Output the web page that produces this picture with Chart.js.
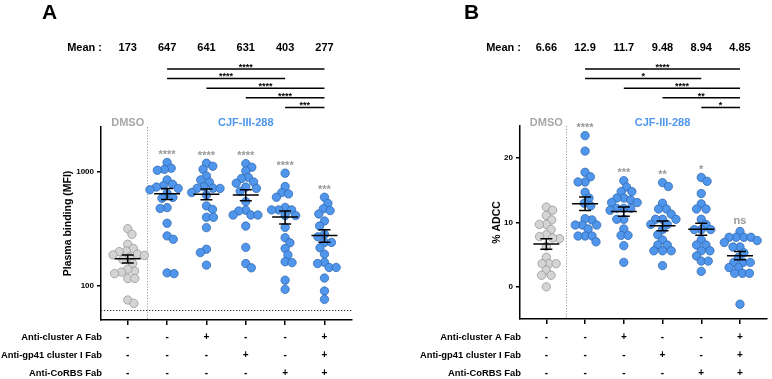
<!DOCTYPE html>
<html>
<head>
<meta charset="utf-8">
<script src="https://cdn.jsdelivr.net/npm/chart.js@4.4.1/dist/chart.umd.min.js"></script>
<style>
  body { margin: 0; background: #fff; }
  #wrap { position: relative; width: 772px; height: 379px; }
  canvas { position: absolute; top: 0; }
</style>
</head>
<body>
<div id="wrap">
  <canvas id="chartA" width="386" height="379" style="left:0"></canvas>
  <canvas id="chartB" width="386" height="379" style="left:386px"></canvas>
</div>
<script>
// ---- data ----
const fabLabels = ['Anti-cluster A Fab', 'Anti-gp41 cluster I Fab', 'Anti-CoRBS Fab'];
const fabClusterA = ['-', '-', '+', '-', '-', '+'];
const fabGp41 = ['-', '-', '-', '+', '-', '+'];
const fabCoRBS = ['-', '-', '-', '-', '+', '+'];
const groupDMSO = 'DMSO';
const groupCJF = 'CJF-III-288';

// A: plasma binding (MFI)
const mfiDMSO = [318, 284, 232, 213, 202, 200, 190, 187, 178, 185, 170, 157, 135, 140, 132, 128, 116, 116, 75, 70];
const mfiCJF = [1217, 1085, 1060, 1040, 856, 783, 760, 740, 720, 700, 650, 600, 590, 488, 480, 355, 275, 257, 130, 128];
const mfiCJFclA = [1200, 1130, 1060, 928, 856, 816, 745, 723, 723, 720, 662, 630, 505, 471, 401, 401, 325, 210, 196, 152];
const mfiCJFgp41 = [1190, 1107, 1027, 900, 880, 820, 800, 740, 720, 680, 551, 463, 456, 420, 420, 420, 336, 218, 157, 144];
const mfiCJFcorbs = [980, 748, 661, 644, 602, 490, 466, 466, 466, 415, 415, 327, 265, 239, 213, 187, 163, 160, 112, 93];
const mfiCJFall = [602, 532, 477, 459, 429, 372, 336, 284, 270, 241, 241, 216, 190, 161, 157, 145, 145, 117, 90, 76];
const meanMFI = [173, 647, 641, 631, 403, 277];
const starsMFI = ['', '****', '****', '****', '****', '***'];
const pairsMFI = [[1, 5, '****'], [1, 4, '****'], [2, 5, '****'], [3, 5, '****'], [4, 5, '***']];
const ticksMFI = [100, 1000];
const cutoffMFI = 61;

// B: % ADCC
const adccDMSO = [12.4, 11.9, 11.1, 10.4, 9.7, 9.7, 8.9, 8.1, 7.8, 7.5, 7.6, 6.3, 4.6, 3.6, 3.6, 3.6, 2.6, 1.8, 1.8, 0.0];
const adccCJF = [23.5, 21.1, 17.8, 17.1, 16.3, 16.3, 14.7, 13.8, 13.0, 12.6, 10.4, 10.6, 9.6, 9.6, 9.6, 9.0, 7.9, 7.9, 7.9, 7.0];
const adccCJFclA = [16.5, 15.5, 14.8, 14.8, 13.8, 13.8, 13.5, 13.1, 13.1, 12.2, 12.2, 12.2, 11.9, 10.5, 10.5, 9.0, 8.0, 8.0, 6.4, 3.8];
const adccCJFgp41 = [16.2, 15.6, 13.0, 12.1, 12.1, 11.3, 10.5, 10.5, 10.5, 9.7, 9.7, 8.9, 8.1, 7.3, 6.5, 6.5, 5.6, 5.6, 5.6, 3.3];
const adccCJFcorbs = [17.0, 16.4, 14.5, 12.9, 12.1, 12.1, 10.5, 9.7, 8.9, 8.9, 8.9, 7.3, 6.5, 6.5, 5.6, 5.6, 4.8, 4.0, 4.0, 2.4];
const adccCJFall = [8.6, 7.7, 7.7, 7.7, 7.7, 7.2, 6.9, 6.2, 6.2, 5.3, 4.6, 3.8, 3.8, 3.8, 3.0, 3.0, 2.1, 2.1, 2.1, -2.7];
const meanADCC = [6.66, 12.9, 11.7, 9.48, 8.94, 4.85];
const starsADCC = ['', '****', '***', '**', '*', 'ns'];
const pairsADCC = [[1, 5, '****'], [1, 4, '*'], [2, 5, '****'], [3, 5, '**'], [4, 5, '*']];
const ticksADCC = [0, 10, 20];

// ---- drawing ----
const FONT = "'Liberation Sans', Arial, sans-serif";
const GREY_DOT = '#d4d4d4', GREY_EDGE = '#8e8e8e';
const BLUE_DOT = '#4f96ec', BLUE_EDGE = '#2b62a8';
const DOT_R = 4.2, SWARM_D = 7.0;

function font(size, bold) { return (bold ? 'bold ' : '') + size + 'px ' + FONT; }

// stars sit high in the em box; centre them on y
function starText(ctx, txt, x, y, size, color) {
  ctx.font = font(size, true);
  ctx.fillStyle = color;
  ctx.textAlign = 'center';
  ctx.textBaseline = 'alphabetic';
  if (txt === 'ns') ctx.fillText(txt, x, y + size * 0.27);
  else ctx.fillText(txt, x, y + size * 0.57);
}

function panelPlugin(p) {
  return {
    id: 'panel' + p.letter,
    beforeDatasetsDraw(chart) {
      const ctx = chart.ctx, a = chart.chartArea;
      const xs = chart.scales.x, ys = chart.scales.y;
      ctx.save();
      ctx.lineWidth = 1;
      ctx.strokeStyle = '#9a9a9a';
      ctx.setLineDash([1.2, 1.6]);
      const sx = Math.round(xs.getPixelForValue(0.5)) + 0.5;
      ctx.beginPath(); ctx.moveTo(sx, a.top); ctx.lineTo(sx, a.bottom); ctx.stroke();
      if (p.cutoff !== undefined) {
        const cy = Math.round(ys.getPixelForValue(p.cutoff)) + 0.5;
        ctx.strokeStyle = '#333';
        ctx.setLineDash([1.3, 1.7]);
        ctx.beginPath(); ctx.moveTo(a.left, cy); ctx.lineTo(a.right, cy); ctx.stroke();
      }
      ctx.restore();
    },
    afterDatasetsDraw(chart) {
      const ctx = chart.ctx;
      const xs = chart.scales.x, ys = chart.scales.y;
      ctx.save();
      ctx.strokeStyle = '#000';
      ctx.lineWidth = 1.5;
      p.groups.forEach((vals, g) => {
        const n = vals.length;
        const avg = vals.reduce((s, v) => s + v, 0) / n;
        const sd = Math.sqrt(vals.reduce((s, v) => s + (v - avg) * (v - avg), 0) / (n - 1));
        const sem = sd / Math.sqrt(n);
        const m = p.means[g];
        const cx = xs.getPixelForValue(g);
        const ym = ys.getPixelForValue(m);
        const yt = ys.getPixelForValue(m + sem), yb = ys.getPixelForValue(m - sem);
        ctx.beginPath();
        ctx.moveTo(cx - 13, ym); ctx.lineTo(cx + 13, ym);
        ctx.moveTo(cx, yt); ctx.lineTo(cx, yb);
        ctx.moveTo(cx - 6, yt); ctx.lineTo(cx + 6, yt);
        ctx.moveTo(cx - 6, yb); ctx.lineTo(cx + 6, yb);
        ctx.stroke();
        // significance vs DMSO above each group
        if (p.stars[g]) {
          const top = ys.getPixelForValue(Math.max(...vals));
          starText(ctx, p.stars[g], cx, top - 10.5, 11, '#999');
        }
      });
      ctx.restore();
    },
    afterDraw(chart) {
      const ctx = chart.ctx, a = chart.chartArea;
      const xs = chart.scales.x;
      const gx = g => xs.getPixelForValue(g);
      ctx.save();
      // panel letter
      ctx.fillStyle = '#000';
      ctx.font = font(21, true);
      ctx.textAlign = 'left';
      ctx.textBaseline = 'alphabetic';
      ctx.fillText(p.letter, p.letterX, 19);
      // mean row
      ctx.font = font(11, true);
      ctx.textAlign = 'right';
      ctx.fillText('Mean :', a.left + 1, 51);
      ctx.textAlign = 'center';
      p.means.forEach((m, g) => ctx.fillText(String(m), gx(g), 51));
      // comparison brackets
      ctx.strokeStyle = '#000';
      ctx.lineWidth = 1.5;
      p.pairs.forEach((pr, i) => {
        const y = 69 + i * 9.6;
        ctx.beginPath(); ctx.moveTo(gx(pr[0]), y); ctx.lineTo(gx(pr[1]), y); ctx.stroke();
        starText(ctx, pr[2], (gx(pr[0]) + gx(pr[1])) / 2, y - 4.3, 9, '#000');
      });
      // group labels
      ctx.font = font(11, true);
      ctx.textAlign = 'center';
      ctx.fillStyle = '#a8a8a8';
      ctx.fillText(groupDMSO, gx(0), 126);
      ctx.fillStyle = '#4f96ec';
      ctx.fillText(groupCJF, gx(3), 126);
      // y axis title
      ctx.save();
      ctx.translate(p.titleX, (a.top + a.bottom) / 2);
      ctx.rotate(-Math.PI / 2);
      ctx.fillStyle = '#000';
      ctx.font = font(10.5, true);
      ctx.textAlign = 'center';
      ctx.textBaseline = 'middle';
      ctx.fillText(p.title, 0, 0);
      ctx.restore();
      // Fab table
      const rows = [fabClusterA, fabGp41, fabCoRBS];
      ctx.fillStyle = '#000';
      rows.forEach((row, r) => {
        const y = 340 + r * 18;
        ctx.font = font(9.4, true);
        ctx.textAlign = 'right';
        ctx.fillText(fabLabels[r], a.left + 1, y);
        ctx.font = font(10, true);
        ctx.textAlign = 'center';
        row.forEach((s, g) => ctx.fillText(s, gx(g), y));
      });
      ctx.restore();
    }
  };
}

function swarm(chart, groups) {
  const xs = chart.scales.x, ys = chart.scales.y;
  const unit = xs.getPixelForValue(1) - xs.getPixelForValue(0);
  groups.forEach((vals, g) => {
    const order = vals.map((v, i) => ({ i, py: ys.getPixelForValue(v) })).sort((a, b) => a.py - b.py);
    const placed = [];
    const offs = [];
    order.forEach((pt, k) => {
      const cands = [0];
      placed.forEach(q => {
        const dy = pt.py - q.py;
        if (Math.abs(dy) < SWARM_D) {
          const dx = Math.sqrt(SWARM_D * SWARM_D - dy * dy);
          cands.push(q.x + dx, q.x - dx);
        }
      });
      const flip = k % 2 ? -1 : 1;
      cands.sort((a, b) => Math.abs(a) - Math.abs(b) || flip * (a - b));
      const x = cands.find(c => placed.every(q => (c - q.x) ** 2 + (pt.py - q.py) ** 2 >= SWARM_D * SWARM_D - 0.01));
      placed.push({ x, py: pt.py });
      offs[pt.i] = x;
    });
    chart.data.datasets[g].data = vals.map((v, i) => ({ x: g + offs[i] / unit, y: v }));
  });
  chart.update('none');
}

function makePanel(id, p) {
  const datasets = p.groups.map((vals, g) => ({
    data: vals.map(v => ({ x: g, y: v })),
    backgroundColor: g === 0 ? GREY_DOT : BLUE_DOT,
    borderColor: g === 0 ? GREY_EDGE : BLUE_EDGE,
    borderWidth: 0.7,
    pointRadius: DOT_R,
    pointHoverRadius: DOT_R,
    clip: false
  }));
  const chart = new Chart(document.getElementById(id), {
    type: 'scatter',
    data: { datasets },
    options: {
      responsive: false,
      animation: false,
      layout: { padding: p.padding },
      plugins: { legend: { display: false }, tooltip: { enabled: false } },
      scales: {
        x: {
          type: 'linear', min: -0.68, max: 5.7,
          afterBuildTicks: s => { s.ticks = [0, 1, 2, 3, 4, 5].map(v => ({ value: v })); },
          afterFit: s => { s.height = 10; },
          ticks: { display: false },
          grid: { drawOnChartArea: false, drawTicks: true, tickLength: 5, color: '#000', lineWidth: 1.5 },
          border: { display: true, color: '#000', width: 1.5 }
        },
        y: {
          type: p.yType, min: p.yMin, max: p.yMax,
          afterBuildTicks: s => { s.ticks = p.yTicks.map(v => ({ value: v })); },
          afterFit: s => { s.width = 40; },
          ticks: { callback: v => String(v), color: '#000', font: { family: FONT, size: 8, weight: 'bold' }, padding: 3 },
          grid: { drawOnChartArea: false, drawTicks: true, tickLength: 4, color: '#000', lineWidth: 1.5 },
          border: { display: true, color: '#000', width: 1.5 }
        }
      }
    },
    plugins: [panelPlugin(p)]
  });
  swarm(chart, p.groups);
  return chart;
}

makePanel('chartA', {
  letter: 'A', letterX: 42, title: 'Plasma binding (MFI)', titleX: 68,
  groups: [mfiDMSO, mfiCJF, mfiCJFclA, mfiCJFgp41, mfiCJFcorbs, mfiCJFall],
  means: meanMFI, stars: starsMFI, pairs: pairsMFI, cutoff: cutoffMFI,
  yType: 'logarithmic', yMin: 50, yMax: 2500, yTicks: ticksMFI,
  padding: { left: 61, right: 34, top: 127, bottom: 49 }
});

makePanel('chartB', {
  letter: 'B', letterX: 78, title: '% ADCC', titleX: 111,
  groups: [adccDMSO, adccCJF, adccCJFclA, adccCJFgp41, adccCJFcorbs, adccCJFall],
  means: meanADCC, stars: starsADCC, pairs: pairsADCC,
  yType: 'linear', yMin: -5, yMax: 25, yTicks: ticksADCC,
  padding: { left: 94, right: 1, top: 126, bottom: 50 }
});
</script>
</body>
</html>
